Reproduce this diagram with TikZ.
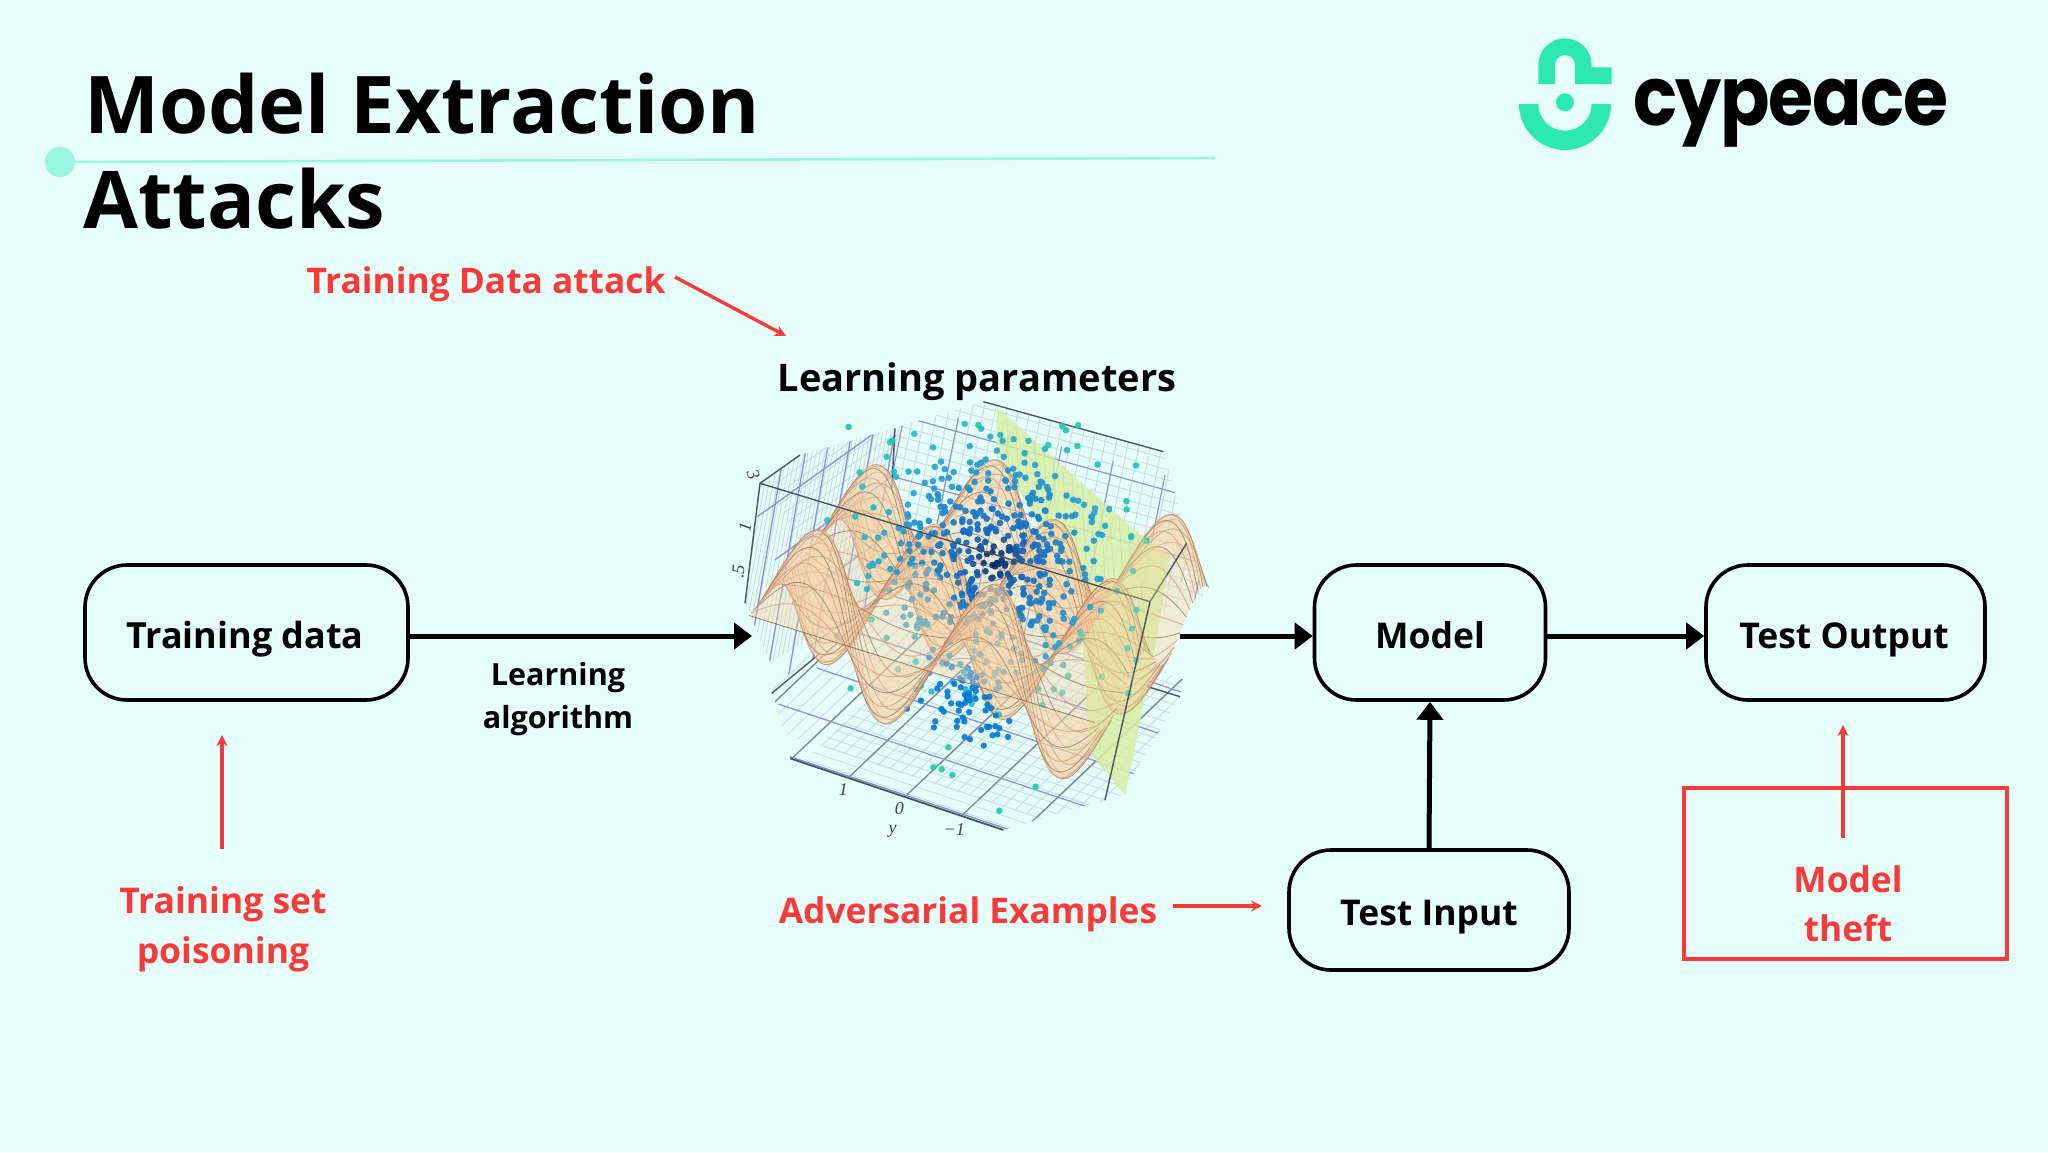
\documentclass[tikz,border=0pt]{standalone}
\usepackage{fontspec}
\setmainfont{Open Sans}
\newfontfamily\logofont[LetterSpace=-2]{Poppins}
\newfontfamily\axisfont{Liberation Serif}
\usetikzlibrary{arrows.meta}
\definecolor{bgc}{HTML}{E6FEFA}
\definecolor{mint}{HTML}{9CF5E2}
\definecolor{logog}{HTML}{2DE8B2}
\definecolor{redc}{HTML}{F83A3A}
\definecolor{peach}{HTML}{F8D4A4}
\definecolor{salmon}{HTML}{D67F62}
\definecolor{brownl}{HTML}{7F5F4A}
\definecolor{minorg}{HTML}{C9DCE2}
\definecolor{majorp}{HTML}{8C90D4}
\definecolor{majord}{HTML}{75828F}
\definecolor{boxl}{HTML}{4A5560}
\definecolor{planeg}{HTML}{D8EEA6}
\tikzset{
  flow/.style={draw=black,line width=3.6pt,rounded corners=42pt,align=center,inner sep=0pt},
  lab/.style={font=\fontsize{35.5}{44}\selectfont\bfseries,text=black,inner sep=0pt,align=center},
  redlab/.style={font=\fontsize{35.3}{49}\selectfont\bfseries,text=redc,inner sep=0pt,align=center},
  blk/.style={line width=5pt,-{Triangle[length=18pt,width=26pt]}},
  redarr/.style={draw=redc,line width=3.4pt,-{Stealth[length=11pt,width=11pt]}},
  minorl/.style={draw=minorg,line width=.9pt},
  majorl/.style={draw=majorp,line width=1.3pt},
  darkl/.style={draw=majord,line width=1.2pt},
  boxe/.style={draw=boxl,line width=1.4pt},
  axt/.style={font=\axisfont\itshape\fontsize{18}{18}\selectfont,text=black!75,inner sep=0pt},
}
\newcommand{\surfstrips}[2]{%
 \foreach \k in {#1,...,#2} {
  \pgfmathsetmacro\qa{3.4-\k*3.9/48}
  \pgfmathsetmacro\qb{3.4-(\k+1)*3.9/48}
  \fill[peach,fill opacity=.4] plot[domain=-.5:3.42,samples=81] ({xx(\x,\qa)},{yy(\x,\qa)}) -- plot[domain=3.42:-.5,samples=81] ({xx(\x,\qb)},{yy(\x,\qb)}) -- cycle;
  \pgfmathtruncatemacro\mm{mod(\k,2)}
  \ifnum\mm=1
   \draw[brownl,line width=.9pt,draw opacity=.7] plot[domain=-.5:3.42,samples=81] ({xx(\x,\qb)},{yy(\x,\qb)});
  \else
   \draw[salmon,line width=1pt,draw opacity=.65] plot[domain=-.5:3.42,samples=81] ({xx(\x,\qb)},{yy(\x,\qb)});
  \fi
 }}
\begin{document}
\begin{tikzpicture}[x=1pt,y=-1pt,
 declare function={
  zz(\p,\q)=cos(180*\p)*cos(180*\q);
  xx(\p,\q)=263+265*\p+88*\q+37*zz(\p,\q);
  yy(\p,\q)=669+82*\p-97*\q-249*zz(\p,\q);
 }]
\fill[bgc] (0,0) rectangle (2048,1152);
\useasboundingbox (0,0) rectangle (2048,1152);
% title rule
\draw[mint,line width=2.6pt] (60,162) -- (1215,158);
\fill[mint] (60,162) circle (15);
\node[anchor=base west,inner sep=0pt,font=\fontsize{79.6}{80}\selectfont\bfseries] (t1) at (84,133) {Model Extraction};
\node[anchor=base west,inner sep=0pt,font=\fontsize{79.6}{80}\selectfont\bfseries] (t2) at (83,228) {Attacks};
% logo
\begin{scope}[shift={(1480,20)},x=.33333pt,y=-.33333pt]
 \fill[logog] (175,192) -- (175,135) arc[start angle=180,end angle=0,radius=26.67pt] -- (335,142) -- (395,142) -- (395,192) -- (285,192) -- (285,135) arc[start angle=0,end angle=180,radius=10pt] -- (225,192) -- cycle;
 \fill[logog] (117,252) arc[start angle=180,end angle=360,radius=46pt] -- (335,252) arc[start angle=0,end angle=-180,radius=26.67pt] -- cycle;
 \fill[logog] (255,247) circle[radius=9pt];
\end{scope}
\node[anchor=base west,inner sep=0pt,xscale=.89,transform shape,font=\logofont\bfseries\fontsize{82}{82}\selectfont] (logo) at (1633,125) {cypeace};
% 3-D plot
\begin{scope}[shift={(720,390)},x=.33333pt,y=-.33333pt]
 \begin{scope}
  \clip (75,640)--(120,280)--(240,195)--(520,115)--(790,35)--(1330,185)--(1370,320)--(1450,620)--(1380,920)--(1200,1220)--(1030,1265)--(850,1320)--(210,1105)--(150,880)--cycle;
  % back wall
  \begin{scope}
   \clip (520,115)--(790,35)--(1330,185)--(1450,620)--(1000,760)--(510,620)--cycle;
   \foreach \k in {-4,...,40} {\draw[minorl] ({480+\k*5.5},{60+\k*33}) -- ++(1000,280);}
   \foreach \k in {-4,...,46} {\draw[minorl] ({500+\k*33},{-50+\k*9}) -- ++(-150,750);}
   \foreach \k in {-1,...,8} {\draw[majorp,line width=1.1pt] ({480+\k*33},{60+\k*198}) -- ++(1000,280);}
   \foreach \k in {0,...,7} {\draw[majorp,line width=1.1pt] ({560+\k*155},{40+\k*43}) -- ++(-150,750);}
  \end{scope}
  % left wall
  \begin{scope}
   \clip (120,280)--(240,195)--(525,115)--(510,620)--(180,885)--(75,640)--cycle;
   \foreach \k in {0,...,34} {\draw[minorl] ({60+\k*13},{110+\k*26}) -- ++(560,-400);}
   \foreach \k in {0,...,34} {\draw[minorl] ({100+\k*14},{130-\k*8}) -- ++(-150,800);}
   \foreach \k in {0,...,5} {\draw[majorl] ({190+\k*68},{200-\k*22}) -- ++(-120,700);}
   \foreach \k in {0,...,4} {\draw[majorl] ({60+\k*52},{250+\k*130}) -- ++(560,-400);}
  \end{scope}
  % floor
  \begin{scope}
   \clip (150,880)--(600,560)--(1420,880)--(1200,1220)--(850,1320)--(210,1105)--cycle;
   \foreach \k in {-8,...,40} {\draw[minorl] ({100+\k*34},{1000+\k*11.4}) -- ++(1000,-950);}
   \foreach \k in {-8,...,32} {\draw[minorl] ({230+\k*23},{1130-\k*22}) -- ++(1200,400);}
   \foreach \k in {-3,...,7} {\draw[darkl] ({385+\k*170},{1163+\k*57}) -- ++(1000,-950);}
   \foreach \k in {0,...,6} {\draw[majorl] ({60+\k*115},{860+\k*-108+190}) -- ++(1200,400);}
  \end{scope}
 \end{scope}
 % box edges at the back and floor axis
 \draw[boxe] (790,35) -- (1330,185);
 \draw[boxe] (240,195) -- (120,280) -- (75,640);
 \draw[boxe] (525,115) -- (515,300);
 \draw[line width=1.8pt,draw=boxl] (210,1105) -- (850,1320);
 \draw[boxe] (155,910) -- (300,790);
 \draw[boxe] (1250,880) -- (1380,920);
 % separating plane
 \fill[planeg,opacity=.8] (830,50) -- (1255,430) -- (1350,500) -- (1300,800) -- (1215,1215) -- (1110,1090) -- (1090,760) -- (1090,620) -- (830,190) -- cycle;
 \foreach \k in {0,...,14} {\draw[planeg!80!olive,line width=.7pt,opacity=.6] ({860+\k*28},{85+\k*24}) -- ({880+\k*28},{560+\k*8});}
 % back of the surface
 \surfstrips{0}{32}
 % scattered points
 \pgfmathsetseed{7}
 \foreach \i in {1,...,520} {
  \pgfmathsetmacro\gx{(rnd+rnd+rnd-1.5)*2}
  \pgfmathsetmacro\gy{(rnd+rnd+rnd-1.5)*2}
  \pgfmathsetmacro\tc{min(sqrt(\gx*\gx+\gy*\gy)/2.3,1)}
  \pgfmathsetmacro\cr{\tc<.2?.02+(\tc/.2)*.06:(\tc<.7?.08+.06*(\tc-.2)/.5:.14)}
  \pgfmathsetmacro\cg{\tc<.2?.12+(\tc/.2)*.28:(\tc<.7?.40+.22*(\tc-.2)/.5:.62+.14*(\tc-.7)/.3)}
  \pgfmathsetmacro\cb{\tc<.2?.34+(\tc/.2)*.40:(\tc<.7?.74+.10*(\tc-.2)/.5:.84-.08*(\tc-.7)/.3)}
  \definecolor{ptc}{rgb}{\cr,\cg,\cb}
  \fill[ptc,opacity=.92] ({825+190*\gx},{510+185*\gy}) circle[radius=3.3pt];
 }
 \foreach \i in {1,...,70} {
  \pgfmathsetmacro\gx{(rnd+rnd+rnd-1.5)*2}
  \pgfmathsetmacro\gy{(rnd+rnd+rnd-1.5)*2}
  \fill[blue!45!cyan!85!black,opacity=.9] ({720+75*\gx},{945+65*\gy}) circle[radius=3.2pt];
 }
 \foreach \a/\b in {775/105,985/165,1072/168,510/157,500/200,1220/358,1145/860,685/1072,640/1132,697/1155,947/1190,838/1262,392/895,603/887,1085/735,455/688,1280/453,665/1138}{
  \fill[logog!70!cyan!85!black,opacity=.9] (\a,\b) circle[radius=3.3pt];
 }
 % box edge passing through the surface
 \draw[boxe] (120,280) -- (1290,635) -- (1400,460);
 % front of the surface
 \surfstrips{33}{47}
 \fill[planeg,opacity=.3] (1255,430) -- (1350,500) -- (1300,800) -- (1215,1215) -- (1110,1090) -- (1090,760) -- cycle;
 \draw[boxe] (1290,635) -- (1155,1230);
 % axis numbers
 \node[axt,rotate=-70] (a3) at (100,255) {3};
 \node[axt,rotate=80] (a1) at (75,410) {1};
 \node[axt,rotate=85] (a5) at (55,545) {.5};
 \node[axt] (b1) at (370,1200) {1};
 \node[axt] (b0) at (538,1255) {0};
 \node[axt] (b2) at (703,1318) {−1};
 \node[axt] (by) at (518,1325) {y};
\end{scope}
% flow boxes
\node[flow,minimum width=323pt,minimum height=135pt] (td) at (246.5,632.5) {};
\node[lab,anchor=base,font=\fontsize{36}{44}\selectfont\bfseries] (tdt) at (245,648) {Training data};
\node[flow,minimum width=231pt,minimum height=135pt] (model) at (1430,632.5) {};
\node[lab,anchor=base] (mt) at (1430,648) {Model};
\node[flow,minimum width=279pt,minimum height=135pt] (out) at (1845.5,632.5) {};
\node[lab,anchor=base] (ot) at (1844,648) {Test Output};
\node[flow,minimum width=280pt,minimum height=120pt] (inp) at (1429,910) {};
\node[lab,anchor=base] (it) at (1429,925) {Test Input};
% labels
\node[lab,anchor=base,font=\fontsize{38}{44}\selectfont\bfseries] (lp) at (977,391) {Learning parameters};
\node[lab,font=\fontsize{30.5}{43}\selectfont\bfseries] (la) at (558,699) {Learning\\algorithm};
\node[redlab,anchor=base] (tda) at (486,293) {Training Data attack};
\node[redlab,font=\fontsize{35.5}{50}\selectfont\bfseries] (tsp) at (223,929) {Training set\\poisoning};
\node[redlab,anchor=base] (adv) at (968,923) {Adversarial Examples};
\node[redlab] (mth) at (1848,904) {Model\\theft};
\node[draw=redc,line width=3.6pt,minimum width=323pt,minimum height=171pt,inner sep=0pt] (mbox) at (1845.5,873.5) {};
% connectors
\coordinate (cin) at (752,636);
\coordinate (cout) at (1180,636);
\draw[blk] (td.east |- cin) -- (cin);
\draw[blk] (cout) -- (model.west |- cout);
\draw[blk] (model.east |- cout) -- (out.west |- cout);
\draw[blk] (inp.north) -- (model.south);
\coordinate (r1a) at (675,277); \coordinate (r1b) at (786,336);
\coordinate (r2a) at (222,849); \coordinate (r2b) at (222,735);
\coordinate (r3a) at (1173,906); \coordinate (r3b) at (1262,906);
\coordinate (r4a) at (1843,838); \coordinate (r4b) at (1843,725);
\draw[redarr] (r1a) -- (r1b);
\draw[redarr] (r2a) -- (r2b);
\draw[redarr] (r3a) -- (r3b);
\draw[redarr] (r4a) -- (r4b);
\end{tikzpicture}
\end{document}
